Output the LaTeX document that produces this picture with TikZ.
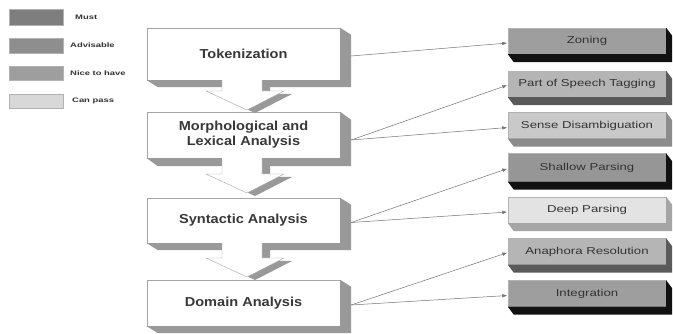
\documentclass[tikz,border=0pt]{standalone}
\usepackage{fontspec}
\usetikzlibrary{calc,arrows.meta}
\newfontfamily\lefttxt[FakeStretch=1.12]{Liberation Sans}
\newfontfamily\righttxt[FakeStretch=1.32]{Liberation Sans}
\newfontfamily\legtxt[FakeStretch=1.45]{Liberation Sans}
\definecolor{mustc}{HTML}{9E9E9E}
\definecolor{mustd}{HTML}{111111}
\definecolor{advc}{HTML}{B5B5B5}
\definecolor{advd}{HTML}{5A5A5A}
\definecolor{nicec}{HTML}{C9C9C9}
\definecolor{niced}{HTML}{8C8C8C}
\definecolor{passc}{HTML}{E3E3E3}
\definecolor{passd}{HTML}{A5A5A5}
\definecolor{sidec}{HTML}{999999}
\newcommand{\extrude}[4]{%
  \fill[#4] (#1.north east) -- ++(#2,#3) -- ($(#1.south east)+(#2,#3)$) -- ($(#1.south west)+(#2,#3)$) -- (#1.south west) -- (#1.south east) -- cycle;}
\newcommand{\blockarrow}[3]{% x tip, y top, y tip
  \fill[sidec, shift={(8,3)}] (#1-25,#2) -- (#1+15,#2) -- (#1+15,#3-19) -- (#1+37,#3-19) -- (#1,#3) -- (#1-41,#3-19) -- (#1-25,#3-19) -- cycle;
  \fill[white] (#1-25,#2) -- (#1+15,#2) -- (#1+15,#3-19) -- (#1+37,#3-19) -- (#1,#3) -- (#1-41,#3-19) -- (#1-25,#3-19) -- cycle;
  \draw[draw=gray!70, line width=0.4pt] (#1-25,#2) -- (#1-25,#3-19) -- (#1-41,#3-19) -- (#1,#3) -- (#1+37,#3-19) -- (#1+15,#3-19) -- (#1+15,#2);}
\tikzset{
  stagebox/.style={draw=gray!70, line width=0.4pt, fill=white, minimum width=193pt, inner sep=0pt,
    font=\lefttxt\bfseries\fontsize{13}{15}\selectfont, text=black!78, align=center},
  taskbox/.style={draw=gray!60, line width=0.4pt, minimum width=158pt, minimum height=26pt, inner sep=0pt,
    font=\righttxt\fontsize{10}{12}\selectfont, text=black!80},
  legbox/.style={draw=gray!60, line width=0.4pt, minimum width=54pt, inner sep=0pt},
  legtext/.style={anchor=west, inner sep=0pt, font=\legtxt\bfseries\fontsize{6.5}{8}\selectfont, text=black!80},
  link/.style={draw=black!55, line width=0.5pt, -{Triangle[length=4.5pt,width=3.2pt]}, shorten >=1pt}
}
\begin{document}
\begin{tikzpicture}[x=1pt,y=-1pt]
\useasboundingbox (0,0) rectangle (673,334);
\fill[white] (0,0) rectangle (673,334);

% legend
\node[legbox, fill=mustc!80!black, minimum height=16pt] (lmust) at (36,17) {};
\node[legbox, fill=mustc!90!black, minimum height=15pt] (ladv) at (36,45.5) {};
\node[legbox, fill=mustc, minimum height=14pt] (lnice) at (36,73) {};
\node[legbox, fill=passc!95!black, minimum height=14pt] (lpass) at (36,101) {};
\node[legtext] (tmust) at (75,17) {Must};
\node[legtext] (tadv) at (70,45.5) {Advisable};
\node[legtext] (tnice) at (70,73) {Nice to have};
\node[legtext] (tpass) at (72,101) {Can pass};

% stages
\node[stagebox, minimum height=52pt] (tok) at (243.5,54) {Tokenization};
\extrude{tok}{11}{7}{sidec}
\node[stagebox, minimum height=46pt] (mor) at (243.5,135) {Morphological and\\Lexical Analysis};
\extrude{mor}{11}{8}{sidec}
\node[stagebox, minimum height=45pt] (syn) at (243.5,220.5) {Syntactic Analysis};
\extrude{syn}{11}{7}{sidec}
\node[stagebox, minimum height=46pt] (dom) at (243.5,303) {Domain Analysis};
\extrude{dom}{11}{7}{sidec}

% block arrows
\blockarrow{247}{80.2}{110}
\blockarrow{247}{158.2}{193}
\blockarrow{247}{243.2}{277}

% tasks
\node[taskbox, fill=mustc] (zon) at (587,41) {Zoning};
\extrude{zon}{6}{8}{mustd}
\node[taskbox, fill=advc] (pos) at (587,84) {Part of Speech Tagging};
\extrude{pos}{6}{8}{advd}
\node[taskbox, fill=nicec] (sen) at (587,125.5) {Sense Disambiguation};
\extrude{sen}{6}{8}{niced}
\node[taskbox, fill=mustc!95!black, minimum height=28pt] (sha) at (587,167.5) {Shallow Parsing};
\extrude{sha}{6}{8}{mustd}
\node[taskbox, fill=passc] (dee) at (587,210) {Deep Parsing};
\extrude{dee}{6}{8}{passd}
\node[taskbox, fill=advc] (ana) at (587,251.5) {Anaphora Resolution};
\extrude{ana}{6}{8}{advd}
\node[taskbox, fill=mustc] (int) at (587,293.5) {Integration};
\extrude{int}{6}{8}{mustd}

% connectors
\coordinate (tokout) at ($(tok.east)+(11,2)$);
\coordinate (morout) at ($(mor.east)+(11,5)$);
\coordinate (synout) at ($(syn.east)+(11,2)$);
\coordinate (domout) at ($(dom.east)+(11,2)$);
\draw[link] (tokout) -- ($(zon.west)+(0,2)$);
\draw[link] (morout) -- ($(pos.west)+(0,1)$);
\draw[link] (morout) -- ($(sen.west)+(0,2)$);
\draw[link] (synout) -- ($(sha.west)+(0,1)$);
\draw[link] (synout) -- ($(dee.west)+(0,2)$);
\draw[link] (domout) -- ($(ana.west)+(0,1)$);
\draw[link] (domout) -- ($(int.west)+(0,2)$);
\end{tikzpicture}
\end{document}
